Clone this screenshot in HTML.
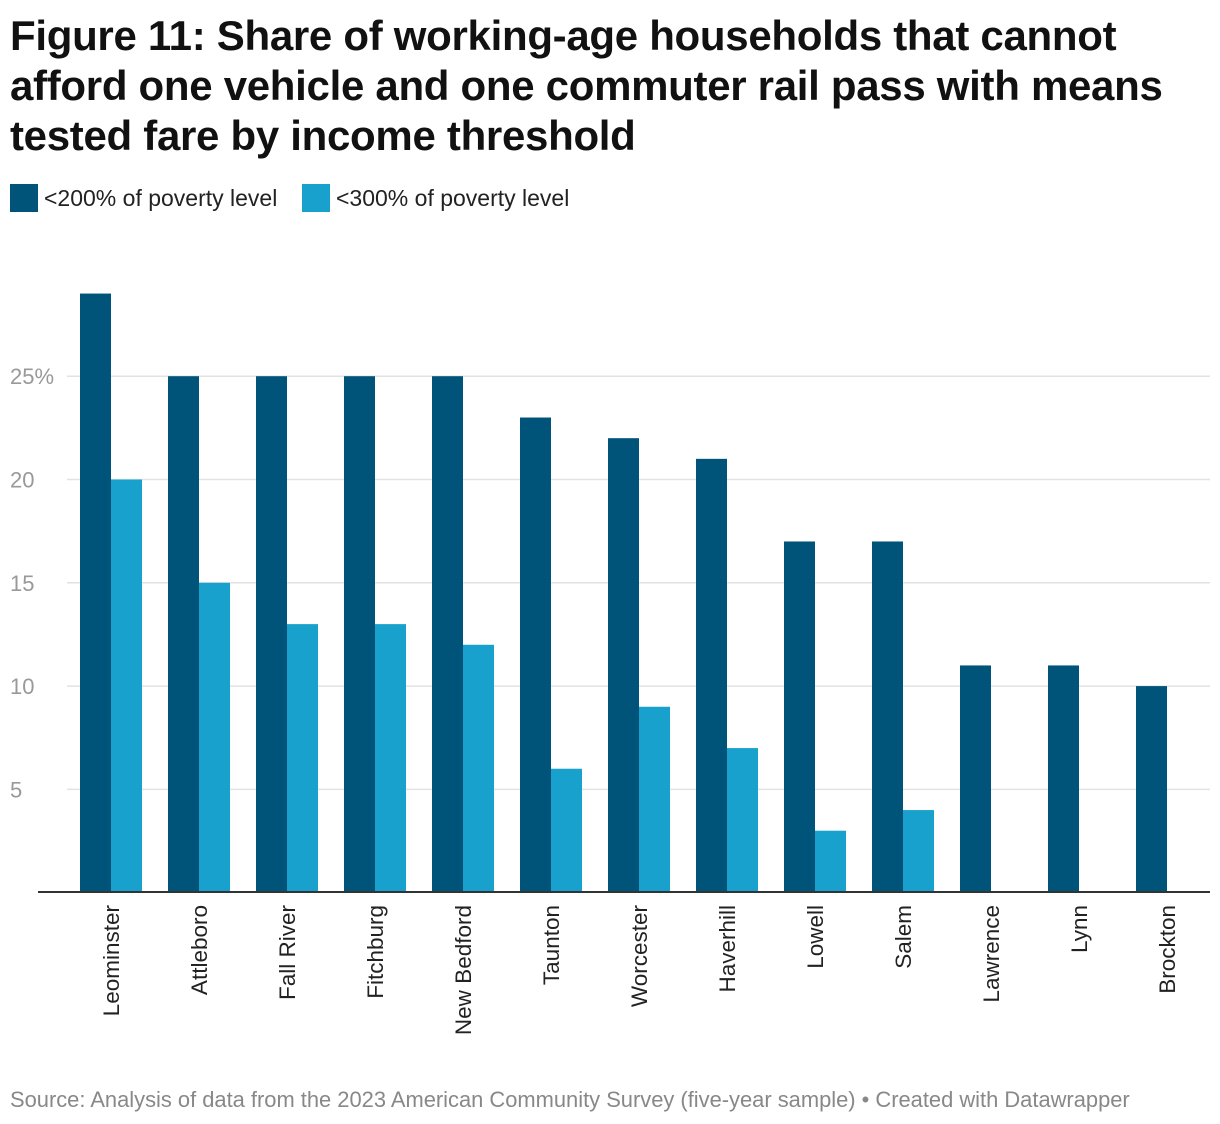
<!DOCTYPE html>
<html><head><meta charset="utf-8">
<style>
body{margin:0;background:#fff;font-family:"Liberation Sans",sans-serif;}
#wrap{position:relative;width:1220px;height:1124px;overflow:hidden;}
h1{position:absolute;left:10px;top:11px;margin:0;font-size:42px;line-height:50px;font-weight:bold;color:#111;letter-spacing:-0.3px;white-space:nowrap;}
.leg{position:absolute;top:184px;height:28px;display:flex;align-items:center;font-size:23px;color:#222;}
.sw{width:28px;height:28px;margin-right:6px;}
#src{position:absolute;left:10px;top:1087px;font-size:21.9px;color:#888;white-space:nowrap;}
</style></head><body>
<div id="wrap">
<h1>Figure 11: Share of working-age households that cannot<br>afford one vehicle and one commuter rail pass with means<br>tested fare by income threshold</h1>
<div class="leg" style="left:10px"><div class="sw" style="background:#00547a"></div>&lt;200% of poverty level</div>
<div class="leg" style="left:302px"><div class="sw" style="background:#18a1cd"></div>&lt;300% of poverty level</div>
<svg id="chart" width="1220" height="1124" style="position:absolute;left:0;top:0"></svg>
<div id="src">Source: Analysis of data from the 2023 American Community Survey (five-year sample) • Created with Datawrapper</div>
</div>
<script>
const categories=["Leominster","Attleboro","Fall River","Fitchburg","New Bedford","Taunton","Worcester","Haverhill","Lowell","Salem","Lawrence","Lynn","Brockton"];
const series200=[29,25,25,25,25,23,22,21,17,17,11,11,10];
const series300=[20,15,13,13,12,6,9,7,3,4,0,0,0];
const ticks=[5,10,15,20,25];
const NS="http://www.w3.org/2000/svg";
const svg=document.getElementById('chart');
const y0=892.7, pxPer=20.66;
const y=v=>y0-v*pxPer;
const x=i=>80+i*88;
const bw=31;
function mk(t,a){const e=document.createElementNS(NS,t);for(const k in a)e.setAttribute(k,a[k]);svg.appendChild(e);return e;}
ticks.forEach(t=>{
  const l=mk('line',{x1:67,x2:1210,y1:y(t),y2:y(t),stroke:'#e2e2e2','stroke-width':1.5});
  
  
  const tx=mk('text',{x:10,y:y(t)+8,'font-size':22,fill:'#999','font-family':'Liberation Sans, sans-serif'});
  tx.textContent=t===25?'25%':String(t);
  
  
});
categories.forEach((c,i)=>{
  const r1=mk('rect',{x:x(i),y:y(series200[i]),width:bw,height:series200[i]*pxPer,fill:'#00547a'});
  
  
  if(series300[i]>0){
    const r2=mk('rect',{x:x(i)+bw,y:y(series300[i]),width:bw,height:series300[i]*pxPer,fill:'#18a1cd'});
    
    
  }
  const cx=x(i)+bw+8, cy=905;
  const t=mk('text',{x:cx,y:cy,'font-size':22.5,fill:'#222','text-anchor':'end','font-family':'Liberation Sans, sans-serif',transform:`rotate(-90 ${cx} ${cy})`});
  t.textContent=c;
  
  
});
const ax=mk('line',{x1:38,x2:1210,y1:892,y2:892,stroke:'#333','stroke-width':2});


</script>
</body></html>
